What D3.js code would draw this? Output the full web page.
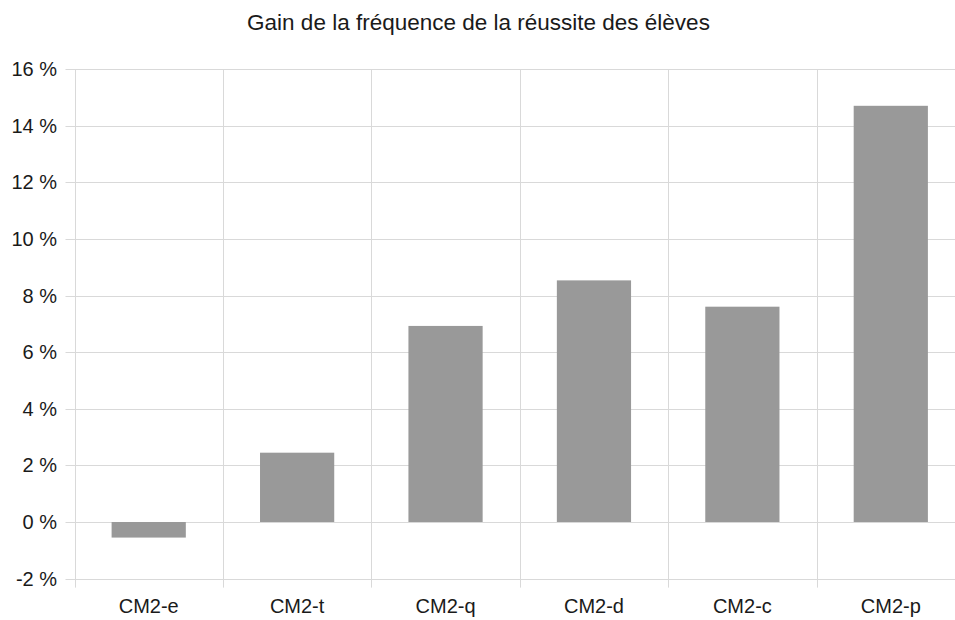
<!DOCTYPE html>
<html>
<head>
<meta charset="utf-8">
<script src="https://cdn.jsdelivr.net/npm/d3@7"></script>
<style>
  body { margin: 0; background: #fff; }
  text { font-family: "Liberation Sans", Arial, sans-serif; fill: #1a1a1a; }
</style>
</head>
<body>
<div id="chart"></div>
<script>
var categories = ['CM2-e', 'CM2-t', 'CM2-q', 'CM2-d', 'CM2-c', 'CM2-p'];
var gains = [-0.55, 2.45, 6.93, 8.54, 7.61, 14.71];
var yTicks = [-2, 0, 2, 4, 6, 8, 10, 12, 14, 16];

var width = 955, height = 620;
var plotLeft = 74.5, plotRight = 965, plotTop = 69.3, plotBottom = 578.6;

var svg = d3.select('#chart').append('svg')
    .attr('width', width)
    .attr('height', height);

var x = d3.scaleBand()
    .domain(categories)
    .range([plotLeft, plotRight])
    .paddingInner(0)
    .paddingOuter(0);

var y = d3.scaleLinear()
    .domain([-2, 16])
    .range([plotBottom, plotTop]);

var grid = svg.append('g');

// horizontal grid lines + ticks
grid.selectAll('line.h')
    .data(yTicks)
    .enter().append('line')
    .attr('class', 'h')
    .attr('x1', plotLeft - 9)
    .attr('x2', plotRight)
    .attr('y1', function (d) { return Math.round(y(d)) + 0.5; })
    .attr('y2', function (d) { return Math.round(y(d)) + 0.5; })
    .attr('stroke', '#d9d9d9')
    .attr('stroke-width', 1);

// vertical separators
var seps = categories.map(function (c) { return x(c); });
grid.selectAll('line.v')
    .data(seps)
    .enter().append('line')
    .attr('class', 'v')
    .attr('x1', function (d) { return Math.round(d) + 0.5; })
    .attr('x2', function (d) { return Math.round(d) + 0.5; })
    .attr('y1', plotTop)
    .attr('y2', plotBottom + 9)
    .attr('stroke', '#d9d9d9')
    .attr('stroke-width', 1);

// bars
var barW = x.bandwidth() * 0.5;
svg.selectAll('rect.bar')
    .data(gains)
    .enter().append('rect')
    .attr('class', 'bar')
    .attr('x', function (d, i) { return x(categories[i]) + (x.bandwidth() - barW) / 2; })
    .attr('width', barW)
    .attr('y', function (d) { return y(Math.max(0, d)); })
    .attr('height', function (d) { return Math.abs(y(d) - y(0)); })
    .attr('fill', '#999999');

// y labels
svg.selectAll('text.ylab')
    .data(yTicks)
    .enter().append('text')
    .attr('class', 'ylab')
    .attr('x', 57)
    .attr('y', function (d) { return y(d); })
    .attr('dy', '0.35em')
    .attr('text-anchor', 'end')
    .style('font-size', '20px')
    .text(function (d) { return d + ' %'; });

// x labels
svg.selectAll('text.xlab')
    .data(categories)
    .enter().append('text')
    .attr('class', 'xlab')
    .attr('x', function (d) { return x(d) + x.bandwidth() / 2; })
    .attr('y', 613)
    .attr('text-anchor', 'middle')
    .style('font-size', '20px')
    .text(function (d) { return d; });

// title
svg.append('text')
    .attr('x', 478.5)
    .attr('y', 30)
    .attr('text-anchor', 'middle')
    .style('font-size', '22.5px')
    .text('Gain de la fréquence de la réussite des élèves');
</script>
</body>
</html>
